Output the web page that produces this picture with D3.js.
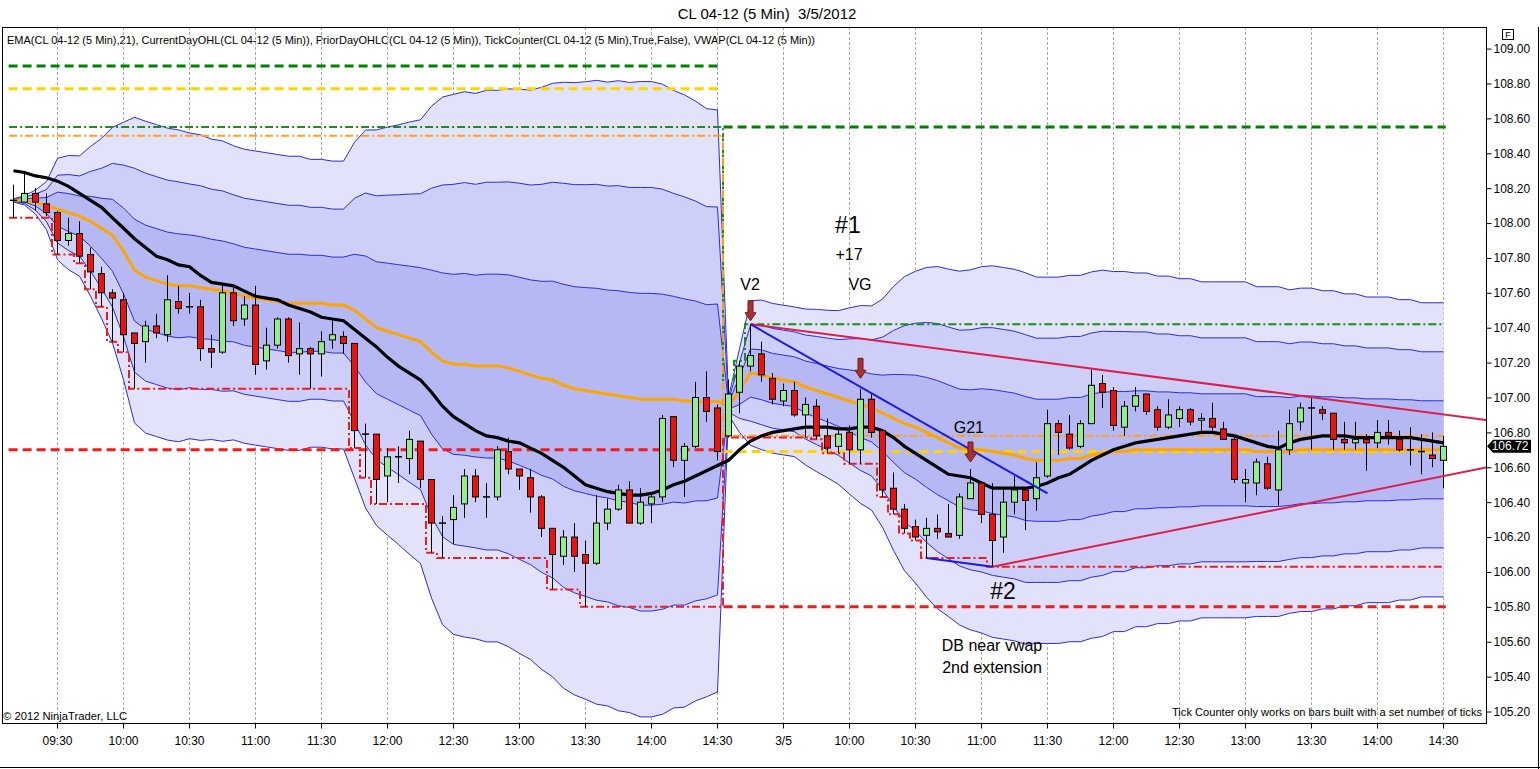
<!DOCTYPE html>
<html><head><meta charset="utf-8">
<script src="https://cdn.jsdelivr.net/npm/d3@7"></script>
<style>
body{margin:0;background:#fff;overflow:hidden}
text{font-family:"Liberation Sans",Arial,sans-serif;fill:#000}
</style>
</head><body>
<svg id="c" width="1540" height="769"></svg>
<script>
// ---------- DATA ----------
const opens = [
108.13,108.12,108.17,108.11,108.06,107.90,107.94,107.82,107.71,107.60,
107.56,107.37,107.32,107.41,107.36,107.55,107.52,107.52,107.28,107.26,
107.60,107.45,107.53,107.21,107.30,107.45,107.25,107.28,107.25,107.33,
107.35,107.31,106.79,106.79,106.55,106.66,106.65,106.75,106.53,106.28,
106.30,106.39,106.55,106.43,106.43,106.69,106.59,106.54,106.43,106.25,
106.09,106.20,106.10,106.05,106.28,106.36,106.47,106.28,106.39,106.43,
106.89,106.64,106.72,107.00,106.94,
106.78,107.03,107.18,107.25,107.11,106.98,107.04,106.90,106.95,106.78,
106.72,106.80,106.70,106.99,106.81,106.48,106.36,106.26,106.21,106.25,
106.22,106.21,106.42,106.51,106.33,106.20,106.40,106.47,106.42,106.55,
106.85,106.79,106.72,106.85,107.08,107.04,106.83,106.95,107.02,106.93,
106.83,106.88,106.93,106.87,106.88,106.82,106.76,106.51,106.51,106.62,
106.47,106.70,106.86,106.94,106.93,106.91,106.76,106.74,106.76,106.74,
106.80,106.76,106.70,106.69,106.67,106.64];
const highs = [
108.22,108.29,108.20,108.17,108.07,108.03,108.01,107.86,107.75,107.62,
107.60,107.37,107.44,107.48,107.70,107.64,107.60,107.56,107.36,107.64,
107.63,107.58,107.64,107.40,107.46,107.46,107.43,107.29,107.38,107.45,
107.38,107.31,106.85,106.79,106.71,106.72,106.81,106.75,106.53,106.32,
106.44,106.59,106.59,106.51,106.72,106.77,106.59,106.59,106.44,106.25,
106.24,106.28,106.18,106.44,106.42,106.50,106.52,106.48,106.44,106.90,
106.89,106.74,107.09,107.15,106.96,
107.10,107.21,107.42,107.32,107.14,107.08,107.09,107.00,106.99,106.88,
106.81,106.84,107.05,107.02,106.82,106.57,106.39,106.30,106.31,106.33,
106.39,106.45,106.59,106.51,106.51,106.47,106.55,106.47,106.63,106.93,
106.87,106.90,106.87,107.16,107.13,107.06,106.98,107.06,107.02,106.95,
106.99,106.95,106.94,106.91,106.97,106.86,106.78,106.59,106.65,106.66,
106.81,106.93,106.97,107.00,106.95,106.91,106.86,106.86,106.79,106.87,
106.87,106.81,106.83,106.79,106.80,106.78];
const lows = [
108.03,108.12,108.07,108.04,107.82,107.87,107.77,107.62,107.52,107.32,
107.26,107.05,107.20,107.34,107.32,107.48,107.48,107.21,107.17,107.25,
107.41,107.41,107.13,107.16,107.28,107.20,107.13,107.05,107.12,107.28,
107.25,106.71,106.54,106.39,106.40,106.51,106.56,106.48,106.11,106.08,
106.16,106.31,106.40,106.31,106.41,106.56,106.47,106.34,106.20,105.90,
106.04,106.00,105.80,106.04,106.24,106.35,106.28,106.27,106.28,106.40,
106.60,106.43,106.71,106.86,106.64,
106.77,106.91,107.15,107.09,106.96,106.95,106.89,106.77,106.76,106.68,
106.68,106.62,106.62,106.77,106.43,106.33,106.22,106.18,106.08,106.19,
106.20,106.19,106.42,106.28,106.03,106.11,106.33,106.24,106.35,106.54,
106.67,106.70,106.71,106.85,106.94,106.81,106.78,106.92,106.90,106.81,
106.82,106.83,106.84,106.81,106.81,106.76,106.51,106.40,106.44,106.47,
106.38,106.67,106.81,106.70,106.87,106.70,106.70,106.70,106.58,106.71,
106.73,106.69,106.61,106.56,106.60,106.48];
const closes = [
108.13,108.17,108.12,108.06,107.90,107.94,107.81,107.72,107.60,107.57,
107.36,107.31,107.41,107.37,107.56,107.51,107.52,107.28,107.26,107.60,
107.44,107.53,107.19,107.30,107.45,107.24,107.28,107.25,107.32,107.36,
107.31,106.81,106.79,106.53,106.66,106.66,106.76,106.53,106.28,106.28,
106.37,106.55,106.43,106.43,106.70,106.59,106.55,106.43,106.25,106.10,
106.20,106.09,106.05,106.28,106.36,106.47,106.28,106.40,106.43,106.88,
106.64,106.72,107.00,106.92,106.69,
107.02,107.18,107.24,107.13,106.99,107.04,106.90,106.96,106.78,106.71,
106.79,106.70,106.99,106.80,106.47,106.36,106.25,106.20,106.25,106.23,
106.20,106.43,106.51,106.33,106.18,106.40,106.47,106.41,106.54,106.85,
106.80,106.71,106.85,107.07,107.03,106.84,106.95,107.01,106.92,106.83,
106.90,106.93,106.86,106.88,106.83,106.76,106.53,106.53,106.63,106.48,
106.70,106.85,106.94,106.94,106.91,106.76,106.74,106.76,106.74,106.80,
106.78,106.70,106.70,106.69,106.65,106.72];
const vwap = [
108.13,108.13,108.12,108.10,108.08,108.06,108.04,108.01,107.97,107.93,
107.84,107.73,107.69,107.67,107.65,107.64,107.64,107.63,107.62,107.61,
107.60,107.58,107.57,107.56,107.55,107.54,107.54,107.54,107.54,107.53,
107.53,107.50,107.45,107.40,107.38,107.36,107.34,107.32,107.26,107.21,
107.19,107.19,107.18,107.18,107.18,107.17,107.15,107.13,107.11,107.10,
107.07,107.05,107.04,107.03,107.02,107.01,107.00,106.99,106.99,106.99,
106.99,106.98,106.98,106.97,106.98,
106.95,107.04,107.14,107.13,107.11,107.10,107.09,107.06,107.04,107.02,
107.00,106.98,106.96,106.94,106.91,106.88,106.85,106.83,106.80,106.77,
106.74,106.71,106.70,106.70,106.69,106.68,106.67,106.65,106.64,106.64,
106.64,106.65,106.65,106.67,106.68,106.69,106.69,106.70,106.70,106.70,
106.70,106.70,106.70,106.70,106.70,106.70,106.70,106.70,106.69,106.69,
106.69,106.69,106.70,106.70,106.70,106.70,106.70,106.70,106.70,106.70,
106.70,106.70,106.70,106.70,106.70,106.70];
const vwapSd = [
0.003,0.009,0.023,0.046,0.097,0.109,0.115,0.143,0.172,0.206,
0.246,0.292,0.298,0.298,0.298,0.298,0.292,0.292,0.287,0.287,
0.281,0.281,0.281,0.281,0.281,0.281,0.281,0.275,0.275,0.275,
0.275,0.321,0.361,0.378,0.390,0.401,0.413,0.424,0.470,0.504,
0.516,0.521,0.521,0.527,0.527,0.533,0.539,0.544,0.556,0.567,
0.579,0.585,0.590,0.596,0.596,0.602,0.602,0.607,0.607,0.602,
0.590,0.585,0.573,0.562,0.556,
0.017,0.080,0.138,0.143,0.143,0.143,0.143,0.149,0.155,0.160,
0.166,0.178,0.189,0.195,0.218,0.252,0.281,0.298,0.315,0.327,
0.332,0.338,0.344,0.350,0.355,0.355,0.355,0.355,0.350,0.350,
0.350,0.350,0.350,0.350,0.350,0.344,0.344,0.338,0.338,0.332,
0.332,0.327,0.327,0.321,0.321,0.321,0.321,0.321,0.315,0.315,
0.315,0.309,0.309,0.309,0.304,0.304,0.298,0.298,0.292,0.292,
0.292,0.287,0.287,0.281,0.281,0.281];
const ema21 = [
108.30,108.29,108.27,108.26,108.24,108.21,108.17,108.13,108.09,108.03,
107.97,107.91,107.86,107.81,107.79,107.76,107.75,107.70,107.66,107.65,
107.64,107.61,107.58,107.57,107.56,107.53,107.51,107.49,107.46,107.45,
107.44,107.39,107.34,107.29,107.23,107.18,107.14,107.10,107.03,106.95,
106.89,106.85,106.81,106.78,106.77,106.75,106.74,106.71,106.68,106.64,
106.60,106.55,106.50,106.48,106.46,106.45,106.44,106.44,106.45,106.47,
106.50,106.52,106.55,106.58,106.61,
106.64,106.70,106.75,106.78,106.80,106.81,106.82,106.83,106.83,106.83,
106.82,106.82,106.83,106.83,106.81,106.77,106.72,106.68,106.64,106.60,
106.56,106.55,106.54,106.51,106.48,106.48,106.48,106.48,106.49,106.51,
106.54,106.56,106.60,106.64,106.67,106.70,106.72,106.74,106.75,106.76,
106.77,106.78,106.79,106.80,106.80,106.79,106.78,106.76,106.74,106.72,
106.71,106.74,106.76,106.77,106.78,106.78,106.78,106.77,106.77,106.77,
106.77,106.77,106.77,106.76,106.75,106.74];

const sessionStart = [0, 65];
const sessionEnd = [64, 130];
const sessionOpen = [108.50, 106.78];
const overnightHigh = [108.55, null];
const priorHigh = [108.90, 108.55];
const priorClose = [108.77, 106.69];
const priorLow = [106.70, 105.80];

const timeTickBars = [4,10,16,22,28,34,40,46,52,58,64,70,76,82,88,94,100,106,112,118,124,130];
const timeTickLabels = ["09:30","10:00","10:30","11:00","11:30","12:00","12:30","13:00","13:30","14:00","14:30",
                        "3/5","10:00","10:30","11:00","11:30","12:00","12:30","13:00","13:30","14:00","14:30"];
const priceTicks = [105.2,105.4,105.6,105.8,106.0,106.2,106.4,106.6,106.8,107.0,107.2,107.4,107.6,107.8,108.0,108.2,108.4,108.6,108.8,109.0];

const trendFrom = [[67,107.42],[89,106.03],[67,107.42],[83,106.08]];
const trendTo   = [[134,106.87],[134,106.60],[94,106.45],[89,106.03]];

const arrowBars = [67, 77, 87];
const arrowTips = [107.44, 107.11, 106.63];

const noteText  = ["V2","VG","#1","+17","G21","#2","DB near vwap","2nd extension"];
const noteBar   = [67, 77, 75.9, 76, 86.9, 90, 89, 89];
const notePrice = [107.65, 107.65, 107.99, 107.82, 106.83, 105.89, 105.58, 105.45];

const lastPrice = 106.72;

// ---------- DRAW ----------
const svg = d3.select('#c');
const plotL = 2, plotR = 1486, plotT = 27, plotB = 723;
const x = d3.scaleLinear().domain([0,130]).range([13,1443]);
const y = d3.scaleLinear().domain([105.2,109]).range([711.5,48.6]);
const idx = d3.range(opens.length);

svg.append('rect').attr('width',1540).attr('height',769).attr('fill','#fff');
svg.append('defs').append('clipPath').attr('id','clip')
  .append('rect').attr('x',plotL).attr('y',plotT).attr('width',plotR-plotL).attr('height',plotB-plotT);

// title & header
svg.append('text').attr('x',767).attr('y',19).attr('text-anchor','middle')
  .style('font-size','15px').style('white-space','pre').attr('xml:space','preserve')
  .text('CL 04-12 (5 Min)  3/5/2012');
svg.append('text').attr('x',7).attr('y',44).style('font-size','11px')
  .attr('textLength',808).attr('lengthAdjust','spacingAndGlyphs')
  .text('EMA(CL 04-12 (5 Min),21), CurrentDayOHL(CL 04-12 (5 Min)), PriorDayOHLC(CL 04-12 (5 Min)), TickCounter(CL 04-12 (5 Min),True,False), VWAP(CL 04-12 (5 Min))');

const plot = svg.append('g').attr('clip-path','url(#clip)');

// grid
plot.selectAll('line.grid').data(timeTickBars).join('line')
  .attr('x1',d=>Math.round(x(d))+0.5).attr('x2',d=>Math.round(x(d))+0.5)
  .attr('y1',plotT).attr('y2',plotB)
  .attr('stroke','#a8a8a8').attr('stroke-dasharray','3,2').attr('stroke-width',1);

// VWAP bands
const bandFill = ['#e2e3fb','#cdcff8','#b5b8f3'];
[3,2,1].forEach((k,j)=>{
  plot.append('path').datum(idx)
    .attr('d', d3.area().x(i=>x(i)+0.5).y0(i=>y(vwap[i]-k*vwapSd[i])).y1(i=>y(vwap[i]+k*vwapSd[i])))
    .attr('fill', bandFill[j]);
});
[3,2,1,-1,-2,-3].forEach(k=>{
  plot.append('path').datum(idx)
    .attr('d', d3.line().x(i=>x(i)+0.5).y(i=>y(vwap[i]+k*vwapSd[i])))
    .attr('fill','none').attr('stroke','#2c2cd8').attr('stroke-width',1);
});

// prior day lines
const pdDefs = [[priorHigh,'#008000'],[priorClose,'#ffd400'],[priorLow,'#ee1c1c']];
pdDefs.forEach(([arr,col])=>{
  sessionStart.forEach((s,j)=>{
    plot.append('line')
      .attr('x1',x(s-0.4)).attr('x2',x(sessionEnd[j]+0.25))
      .attr('y1',y(arr[j])).attr('y2',y(arr[j]))
      .attr('stroke',col).attr('stroke-width',3).attr('stroke-dasharray','9,5');
  });
});

// current day OHL (derived from bars)
const curHigh = [], curLow = [], curOpen = [];
sessionStart.forEach((s,j)=>{
  let hi = overnightHigh[j] == null ? -Infinity : overnightHigh[j];
  let lo = Infinity;
  for (let i=s;i<=sessionEnd[j];i++){
    hi = Math.max(hi, highs[i]); lo = Math.min(lo, lows[i]);
    curHigh[i]=hi; curLow[i]=lo; curOpen[i]=sessionOpen[j];
  }
});
const stepLine = arr => {
  const pts = [[-0.4, arr[0]]].concat(idx.map(i=>[i, arr[i]]));
  return d3.line().curve(d3.curveStep).x(p=>x(p[0])+0.5).y(p=>y(p[1]))(pts);
};
[[curHigh,'#1c8c1c'],[curOpen,'#ffa020'],[curLow,'#ee1c1c']].forEach(([arr,col])=>{
  plot.append('path').attr('d',stepLine(arr)).attr('fill','none')
    .attr('stroke',col).attr('stroke-width',2).attr('stroke-dasharray','8,3,2,3');
});

// VWAP & EMA
plot.append('path').datum(idx).attr('d',d3.line().x(i=>x(i)+0.5).y(i=>y(vwap[i])))
  .attr('fill','none').attr('stroke','#ffa500').attr('stroke-width',3);
plot.append('path').datum(idx).attr('d',d3.line().x(i=>x(i)+0.5).y(i=>y(ema21[i])))
  .attr('fill','none').attr('stroke','#000').attr('stroke-width',3.2);

// candles
const cg = plot.append('g');
cg.selectAll('line.wick').data(idx).join('line')
  .attr('x1',i=>x(i)+0.5).attr('x2',i=>x(i)+0.5)
  .attr('y1',i=>y(highs[i])).attr('y2',i=>y(lows[i]))
  .attr('stroke','#000').attr('stroke-width',1);
const bodies = idx.filter(i=>opens[i]!==closes[i]);
cg.selectAll('rect.body').data(bodies).join('rect')
  .attr('x',i=>x(i)-2.5).attr('width',6)
  .attr('y',i=>y(Math.max(opens[i],closes[i])))
  .attr('height',i=>Math.max(1, Math.abs(y(opens[i])-y(closes[i]))))
  .attr('fill',i=>closes[i]>opens[i]?'#90ee90':'#ee1111')
  .attr('stroke','#000').attr('stroke-width',1);
const dojis = idx.filter(i=>opens[i]===closes[i]);
cg.selectAll('line.doji').data(dojis).join('line')
  .attr('x1',i=>x(i)-3).attr('x2',i=>x(i)+4)
  .attr('y1',i=>y(opens[i])).attr('y2',i=>y(opens[i]))
  .attr('stroke','#000').attr('stroke-width',1.5);

// trend lines
const trendColors = ['#dc1e4a','#dc1e4a','#1a1ae6','#1a1ae6'];
trendFrom.forEach((f,j)=>{
  plot.append('line')
    .attr('x1',x(f[0])+0.5).attr('y1',y(f[1]))
    .attr('x2',x(trendTo[j][0])+0.5).attr('y2',y(trendTo[j][1]))
    .attr('stroke',trendColors[j]).attr('stroke-width',2);
});

// arrows
arrowBars.forEach((b,j)=>{
  const cx = x(b)+0.5, ty = y(arrowTips[j]);
  plot.append('path')
    .attr('d',`M${cx-2.5},${ty-20} L${cx+2.5},${ty-20} L${cx+2.5},${ty-8} L${cx+5.5},${ty-8} L${cx},${ty} L${cx-5.5},${ty-8} L${cx-2.5},${ty-8} Z`)
    .attr('fill','#a83232').attr('stroke','#6e1c1c').attr('stroke-width',1);
});

// annotations
noteText.forEach((t,j)=>{
  const big = t.startsWith('#');
  svg.append('text').attr('x',x(noteBar[j])).attr('y',y(notePrice[j]))
    .attr('text-anchor','middle').attr('dominant-baseline','central')
    .style('font-size', big ? '23px' : '16px').text(t);
});

// frame
svg.append('rect').attr('x',plotL+0.5).attr('y',plotT+0.5)
  .attr('width',plotR-plotL).attr('height',plotB-plotT)
  .attr('fill','none').attr('stroke','#000').attr('stroke-width',1);
svg.append('line').attr('x1',0).attr('x2',1540).attr('y1',767.5).attr('y2',767.5).attr('stroke','#000');
svg.append('line').attr('x1',1538.5).attr('x2',1538.5).attr('y1',27).attr('y2',769).attr('stroke','#000');

// axes
const yAxis = svg.append('g').attr('transform',`translate(${plotR+0.5},0)`)
  .call(d3.axisRight(y).tickValues(priceTicks).tickFormat(d3.format('.2f')).tickSize(5).tickPadding(2));
yAxis.select('.domain').remove();
yAxis.selectAll('text').style('font-size','12px').style('font-family','"Liberation Sans",Arial,sans-serif');

const xAxis = svg.append('g').attr('transform',`translate(0,${plotB+0.5})`)
  .call(d3.axisBottom(x).tickValues(timeTickBars).tickFormat((d,i)=>timeTickLabels[i]).tickSize(5).tickPadding(8));
xAxis.select('.domain').remove();
xAxis.selectAll('text').style('font-size','12px').style('font-family','"Liberation Sans",Arial,sans-serif');

// last price marker
const ly = y(lastPrice);
svg.append('path')
  .attr('d',`M${plotR+1},${ly} L${plotR+7},${ly-6.5} L1531,${ly-6.5} L1531,${ly+6.5} L${plotR+7},${ly+6.5} Z`)
  .attr('fill','#000');
svg.append('text').attr('x',1510).attr('y',ly).attr('text-anchor','middle')
  .attr('dominant-baseline','central').style('font-size','12px').style('fill','#fff')
  .text(d3.format('.2f')(lastPrice));

// F box
svg.append('rect').attr('x',1502.5).attr('y',29.5).attr('width',11).attr('height',10)
  .attr('fill','#fff').attr('stroke','#000');
svg.append('text').attr('x',1508).attr('y',35).attr('text-anchor','middle')
  .attr('dominant-baseline','central').style('font-size','9px').text('F');

// footers
svg.append('text').attr('x',3).attr('y',720).style('font-size','11px')
  .attr('textLength',124).attr('lengthAdjust','spacingAndGlyphs').text('© 2012 NinjaTrader, LLC');
svg.append('text').attr('x',1172).attr('y',716).style('font-size','11px')
  .attr('textLength',310).attr('lengthAdjust','spacingAndGlyphs')
  .text('Tick Counter only works on bars built with a set number of ticks');
</script>
</body></html>
